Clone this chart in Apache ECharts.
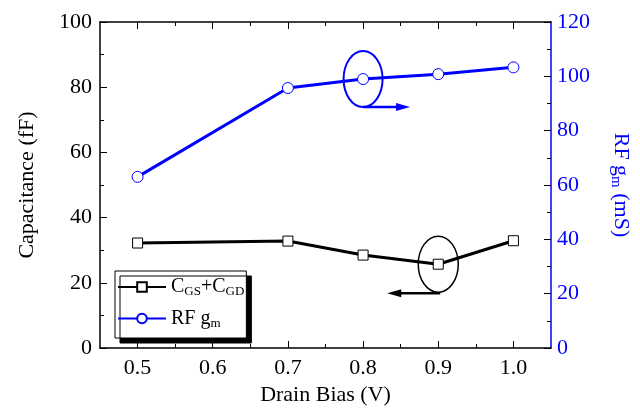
<!DOCTYPE html>
<html><head><meta charset="utf-8">
<script src="https://cdn.jsdelivr.net/npm/echarts@6/dist/echarts.min.js"></script>
<style>html,body{margin:0;padding:0;background:#fff}#c{width:640px;height:412px}</style>
</head><body><div id="c"></div>
<script>
const drainBias = [0.5, 0.7, 0.8, 0.9, 1.0];
const capacitance = [32.2, 32.8, 28.5, 25.7, 32.9];
const rfGm = [63.0, 95.7, 99.0, 100.8, 103.3];
const xMajorTicks = [0.5, 0.6, 0.7, 0.8, 0.9, 1.0];
const xMinorTicks = [0.55, 0.65, 0.75, 0.85, 0.95];

const FONT = 'Liberation Serif';
const BLUE = '#0000ff';
const chart = echarts.init(document.getElementById('c'));

const xBase = {type:'value', min:0.45, max:1.05, splitLine:{show:false}, gridIndex:0};
const option = {
  animation:false,
  textStyle:{fontFamily:FONT},
  grid:{left:100, right:89, top:22, bottom:64},
  xAxis:[
    Object.assign({}, xBase, {position:'bottom', name:'Drain Bias (V)', nameLocation:'middle', nameGap:35,
      nameTextStyle:{fontFamily:FONT, fontSize:22, color:'#000'},
      axisLine:{lineStyle:{color:'#000', width:1.5}},
      axisTick:{inside:true, length:7, customValues:xMajorTicks, lineStyle:{color:'#000'}},
      axisLabel:{customValues:xMajorTicks, formatter:v=>v.toFixed(1), fontFamily:FONT, fontSize:22, color:'#000', margin:9}}),
    Object.assign({}, xBase, {position:'bottom', axisLine:{show:false},
      axisTick:{inside:true, length:4, customValues:xMinorTicks, lineStyle:{color:'#000'}},
      axisLabel:{show:false}}),
    Object.assign({}, xBase, {position:'top', axisLine:{lineStyle:{color:'#000', width:1.5}},
      axisTick:{inside:true, length:7, customValues:xMajorTicks, lineStyle:{color:'#000'}},
      axisLabel:{show:false}}),
    Object.assign({}, xBase, {position:'top', axisLine:{show:false},
      axisTick:{inside:true, length:4, customValues:xMinorTicks, lineStyle:{color:'#000'}},
      axisLabel:{show:false}})
  ],
  yAxis:[
    {type:'value', min:0, max:100, interval:20, position:'left',
      name:'Capacitance (fF)', nameLocation:'middle', nameGap:62, nameRotate:90,
      nameTextStyle:{fontFamily:FONT, fontSize:22, color:'#000'},
      axisLine:{show:true, lineStyle:{color:'#000', width:1.5}},
      axisTick:{show:true, inside:true, length:7, lineStyle:{color:'#000'}},
      minorTick:{show:true, splitNumber:2, length:4, lineStyle:{color:'#000'}},
      splitLine:{show:false},
      axisLabel:{fontFamily:FONT, fontSize:22, color:'#000', margin:8}},
    {type:'value', min:0, max:120, interval:20, position:'right',
      name:'{n|RF g}{s|m}{n| (mS)}', nameLocation:'middle', nameGap:57, nameRotate:-90,
      nameTextStyle:{fontFamily:FONT, fontSize:22, color:BLUE,
        rich:{n:{fontFamily:FONT, fontSize:22, color:BLUE}, s:{fontFamily:FONT, fontSize:15, color:BLUE, padding:[10,0,0,0]}}},
      axisLine:{show:true, lineStyle:{color:BLUE, width:1.5}},
      axisTick:{show:true, inside:true, length:7, lineStyle:{color:'#000'}},
      minorTick:{show:true, splitNumber:2, length:4, lineStyle:{color:'#000'}},
      splitLine:{show:false},
      axisLabel:{fontFamily:FONT, fontSize:22, color:BLUE, margin:6}}
  ],
  legend:{
    left:115, top:271, orient:'vertical', itemWidth:48, itemHeight:12, itemGap:10,
    padding:[6,2,8,2],
    backgroundColor:'#fff', borderColor:'#000', borderWidth:1,
    shadowColor:'#000', shadowOffsetX:5, shadowOffsetY:5, shadowBlur:0,
    data:['cap','gm'],
    formatter:function(n){return n==='cap' ? '{n|C}{s|GS}{n|+C}{s|GD}' : '{n|RF g}{s|m}';},
    textStyle:{fontFamily:FONT, fontSize:20, color:'#000',
      rich:{n:{fontFamily:FONT, fontSize:20, color:'#000'}, s:{fontFamily:FONT, fontSize:13, color:'#000', padding:[10,0,0,0]}}}
  },
  series:[
    {name:'cap', type:'line', xAxisIndex:0, yAxisIndex:0,
      data:drainBias.map((x,i)=>[x, capacitance[i]]),
      symbol:'rect', symbolSize:10, showAllSymbol:true,
      lineStyle:{color:'#000', width:3}, itemStyle:{color:'#fff', borderColor:'#000', borderWidth:1},
      z:3},
    {name:'gm', type:'line', xAxisIndex:0, yAxisIndex:1,
      data:drainBias.map((x,i)=>[x, rfGm[i]]),
      symbol:'circle', symbolSize:11, showAllSymbol:true,
      lineStyle:{color:BLUE, width:3}, itemStyle:{color:'#fff', borderColor:BLUE, borderWidth:1},
      z:3}
  ]
};
chart.setOption(option);

// annotations: ellipses and arrows tied to data points
const pB = chart.convertToPixel({xAxisIndex:0, yAxisIndex:1}, [drainBias[2], rfGm[2]]);
const pK = chart.convertToPixel({xAxisIndex:0, yAxisIndex:0}, [drainBias[3], capacitance[3]]);
function arrow(x1, y, x2, color){
  const dir = Math.sign(x2 - x1);
  return [
    {type:'line', shape:{x1:x1, y1:y, x2:x2 - dir*12, y2:y}, style:{stroke:color, lineWidth:2.5}, z:10},
    {type:'polygon', shape:{points:[[x2, y],[x2 - dir*14, y-4],[x2 - dir*14, y+4]]}, style:{fill:color}, z:10}
  ];
}
chart.setOption({graphic:[
  {type:'ellipse', shape:{cx:pB[0], cy:pB[1], rx:19.5, ry:28}, style:{fill:null, stroke:BLUE, lineWidth:2}, z:10},
  ...arrow(pB[0], pB[1]+28, pB[0]+47, BLUE),
  {type:'ellipse', shape:{cx:pK[0], cy:pK[1], rx:20, ry:28}, style:{fill:null, stroke:'#000', lineWidth:1.5}, z:10},
  ...arrow(pK[0]+2, pK[1]+29, pK[0]-51, '#000')
]});
</script></body></html>
